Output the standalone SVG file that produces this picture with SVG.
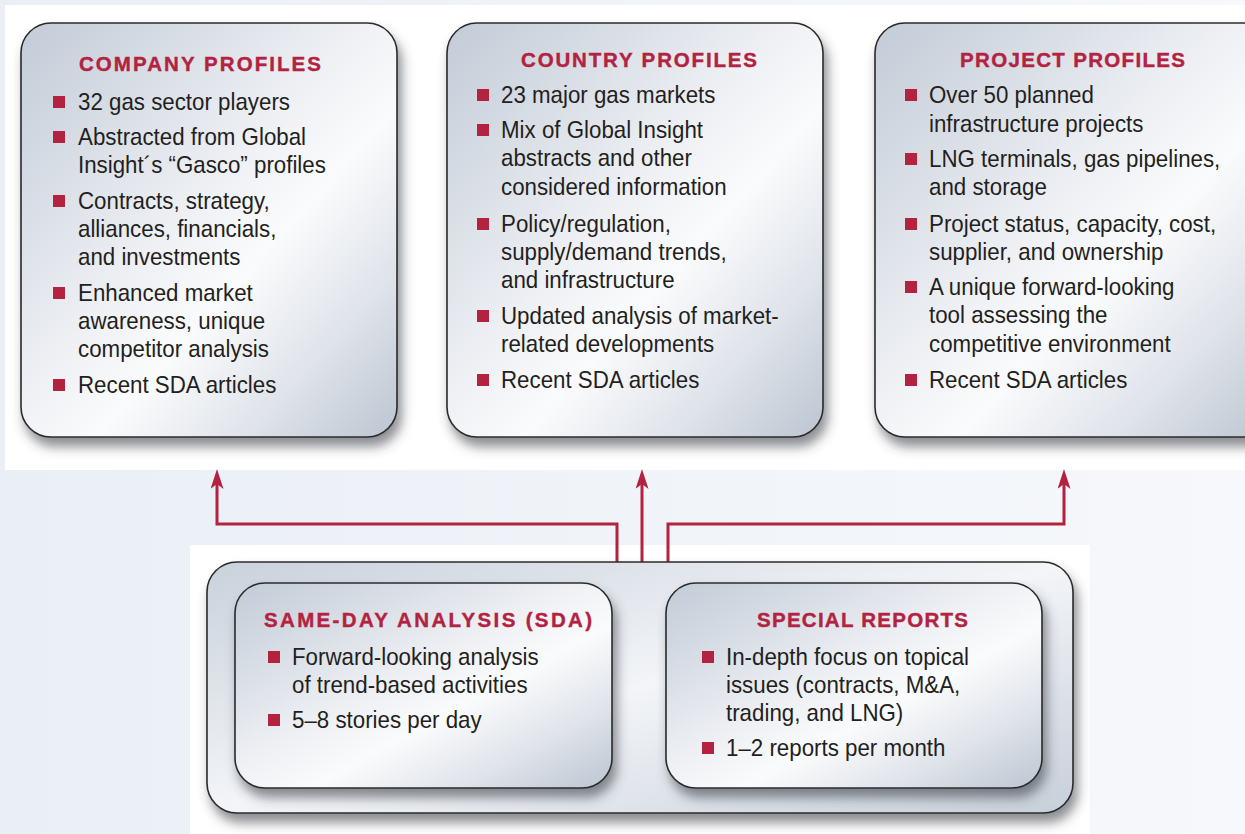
<svg xmlns="http://www.w3.org/2000/svg" width="1245" height="834" viewBox="0 0 1245 834">
<defs>
<linearGradient id="metal" x1="0" y1="0" x2="1" y2="1">
<stop offset="0" stop-color="#c2cbd7"/>
<stop offset="0.45" stop-color="#eef0f4"/>
<stop offset="0.6" stop-color="#fafbfc"/>
<stop offset="0.8" stop-color="#dfe3ea"/>
<stop offset="1" stop-color="#bcc5d1"/>
</linearGradient>
<linearGradient id="metal2" x1="0" y1="0" x2="1" y2="1">
<stop offset="0" stop-color="#c9d1dc"/>
<stop offset="0.5" stop-color="#f3f5f8"/>
<stop offset="1" stop-color="#c7cfda"/>
</linearGradient>
<linearGradient id="band" x1="0" y1="0" x2="1" y2="0">
<stop offset="0" stop-color="#eaeff6"/>
<stop offset="1" stop-color="#f6f8fb"/>
</linearGradient>
<filter id="shadow" x="-10%" y="-10%" width="125%" height="130%">
<feDropShadow dx="4" dy="9" stdDeviation="6" flood-color="#3a3f48" flood-opacity="0.6"/>
</filter>
<marker id="arrow" markerUnits="userSpaceOnUse" markerWidth="20" markerHeight="13" viewBox="0 0 20 13" refX="11" refY="6.5" orient="auto">
<path d="M0,0 L20,6.5 L0,13 L5,6.5 Z" fill="#b3223f"/>
</marker>
</defs>
<style>
.box{fill:url(#metal);stroke:#2b2b2b;stroke-width:1.6;filter:url(#shadow)}
.outer{fill:url(#metal2);stroke:#2b2b2b;stroke-width:1.6;filter:url(#shadow)}
.title{font-family:"Liberation Sans",Arial,sans-serif;font-weight:bold;font-size:20.5px;fill:#b3223f;stroke:#b3223f;stroke-width:0.4}
.t{font-family:"Liberation Sans",Arial,sans-serif;font-size:24px;fill:#231f20}
.b{fill:#b3223f}
.conn{fill:none;stroke:#b3223f;stroke-width:3;stroke-linejoin:miter}
</style>
<rect x="0" y="0" width="1245" height="834" fill="url(#band)"/>
<rect x="5" y="5" width="1240" height="465" fill="#ffffff"/>
<rect x="190" y="545" width="900" height="289" fill="#ffffff"/>

<g id="company-profiles">
<rect class="box" x="21" y="23" width="376" height="414" rx="30" ry="30"/>
<text class="title" x="79" y="71" textLength="242">COMPANY PROFILES</text>
<rect class="b" x="53" y="96" width="12" height="12"/>
<rect class="b" x="53" y="131" width="12" height="12"/>
<rect class="b" x="53" y="195" width="12" height="12"/>
<rect class="b" x="53" y="287" width="12" height="12"/>
<rect class="b" x="53" y="379" width="12" height="12"/>
<g transform="translate(78,0) scale(0.93,1)">
<text class="t" x="0" y="110">32 gas sector players</text>
<text class="t" x="0" y="145">Abstracted from Global</text>
<text class="t" x="0" y="173">Insight´s “Gasco” profiles</text>
<text class="t" x="0" y="209">Contracts, strategy,</text>
<text class="t" x="0" y="237">alliances, financials,</text>
<text class="t" x="0" y="265">and investments</text>
<text class="t" x="0" y="301">Enhanced market</text>
<text class="t" x="0" y="329">awareness, unique</text>
<text class="t" x="0" y="357">competitor analysis</text>
<text class="t" x="0" y="393">Recent SDA articles</text>
</g>
</g>

<g id="country-profiles">
<rect class="box" x="447" y="23" width="376" height="414" rx="30" ry="30"/>
<text class="title" x="521" y="67" textLength="236">COUNTRY PROFILES</text>
<rect class="b" x="477" y="89" width="12" height="12"/>
<rect class="b" x="477" y="124" width="12" height="12"/>
<rect class="b" x="477" y="218" width="12" height="12"/>
<rect class="b" x="477" y="310" width="12" height="12"/>
<rect class="b" x="477" y="374" width="12" height="12"/>
<g transform="translate(501,0) scale(0.93,1)">
<text class="t" x="0" y="103">23 major gas markets</text>
<text class="t" x="0" y="138">Mix of Global Insight</text>
<text class="t" x="0" y="166">abstracts and other</text>
<text class="t" x="0" y="195">considered information</text>
<text class="t" x="0" y="232">Policy/regulation,</text>
<text class="t" x="0" y="260">supply/demand trends,</text>
<text class="t" x="0" y="288">and infrastructure</text>
<text class="t" x="0" y="324">Updated analysis of market-</text>
<text class="t" x="0" y="352">related developments</text>
<text class="t" x="0" y="388">Recent SDA articles</text>
</g>
</g>

<g id="project-profiles">
<rect class="box" x="875" y="23" width="400" height="414" rx="30" ry="30"/>
<text class="title" x="960" y="67" textLength="225">PROJECT PROFILES</text>
<rect class="b" x="905" y="89" width="12" height="12"/>
<rect class="b" x="905" y="153" width="12" height="12"/>
<rect class="b" x="905" y="218" width="12" height="12"/>
<rect class="b" x="905" y="281" width="12" height="12"/>
<rect class="b" x="905" y="374" width="12" height="12"/>
<g transform="translate(929,0) scale(0.93,1)">
<text class="t" x="0" y="103">Over 50 planned</text>
<text class="t" x="0" y="132">infrastructure projects</text>
<text class="t" x="0" y="167">LNG terminals, gas pipelines,</text>
<text class="t" x="0" y="195">and storage</text>
<text class="t" x="0" y="232">Project status, capacity, cost,</text>
<text class="t" x="0" y="260">supplier, and ownership</text>
<text class="t" x="0" y="295">A unique forward-looking</text>
<text class="t" x="0" y="323">tool assessing the</text>
<text class="t" x="0" y="352">competitive environment</text>
<text class="t" x="0" y="388">Recent SDA articles</text>
</g>
</g>

<g id="connectors">
<path class="conn" d="M617,563 V524 H217 V478" marker-end="url(#arrow)"/>
<path class="conn" d="M642,563 V478" marker-end="url(#arrow)"/>
<path class="conn" d="M668,563 V524 H1064 V478" marker-end="url(#arrow)"/>
</g>

<g id="analysis-services">
<rect class="outer" x="207" y="562" width="866" height="251" rx="30" ry="30"/>
</g>

<g id="same-day-analysis">
<rect class="box" x="235" y="583" width="377" height="205" rx="30" ry="30"/>
<text class="title" x="264" y="627" textLength="328">SAME-DAY ANALYSIS (SDA)</text>
<rect class="b" x="268" y="651" width="12" height="12"/>
<rect class="b" x="268" y="714" width="12" height="12"/>
<g transform="translate(292,0) scale(0.93,1)">
<text class="t" x="0" y="665">Forward-looking analysis</text>
<text class="t" x="0" y="693">of trend-based activities</text>
<text class="t" x="0" y="728">5–8 stories per day</text>
</g>
</g>

<g id="special-reports">
<rect class="box" x="666" y="583" width="376" height="205" rx="30" ry="30"/>
<text class="title" x="757" y="627" textLength="211">SPECIAL REPORTS</text>
<rect class="b" x="702" y="651" width="12" height="12"/>
<rect class="b" x="702" y="742" width="12" height="12"/>
<g transform="translate(726,0) scale(0.93,1)">
<text class="t" x="0" y="665">In-depth focus on topical</text>
<text class="t" x="0" y="693">issues (contracts, M&amp;A,</text>
<text class="t" x="0" y="721">trading, and LNG)</text>
<text class="t" x="0" y="756">1–2 reports per month</text>
</g>
</g>
</svg>
